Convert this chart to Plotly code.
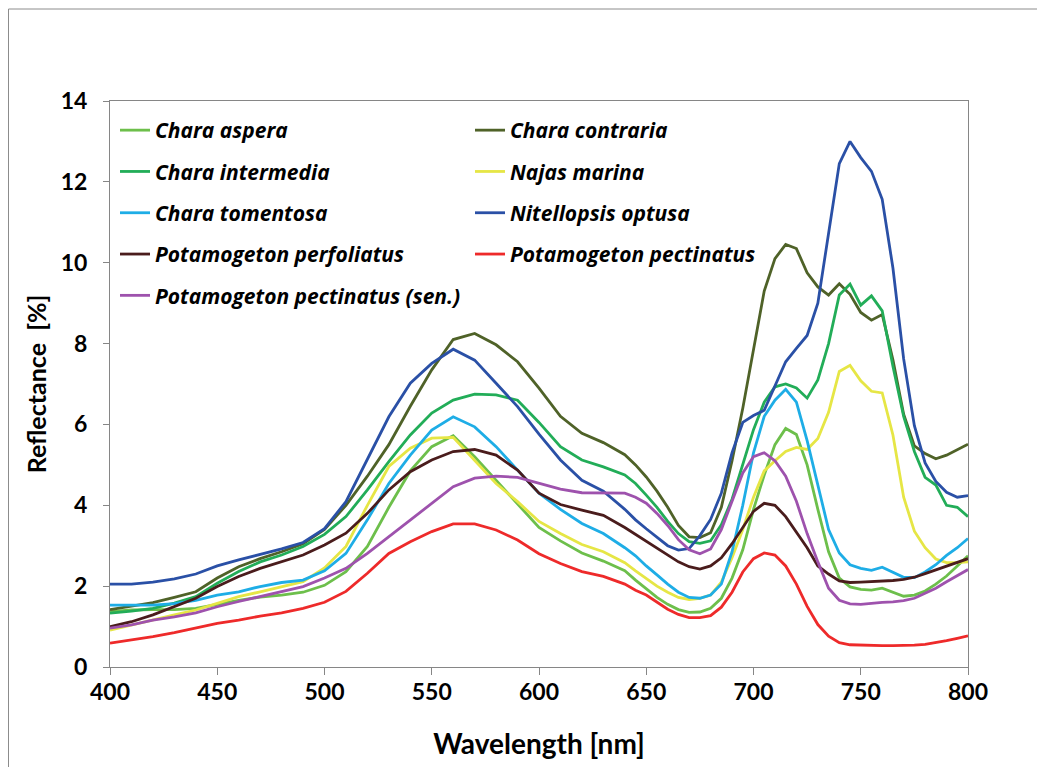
import plotly.graph_objects as go

wavelength = [400, 410, 420, 430, 440, 450, 460, 470, 480, 490, 500, 510, 520, 530, 540, 550, 560, 570,
              580, 590, 600, 610, 620, 630, 640,
              645, 650, 655, 660, 665, 670, 675, 680, 685, 690, 695, 700, 705, 710, 715, 720, 725,
              730, 735, 740, 745, 750, 755, 760, 765, 770, 775, 780, 785, 790, 795, 800]

chara_aspera = [1.37, 1.41, 1.42, 1.42, 1.45, 1.55, 1.65, 1.73, 1.78, 1.85, 2.02, 2.36, 2.98, 3.95, 4.85, 5.45, 5.72, 5.2,
                4.62, 4.02, 3.45, 3.12, 2.82, 2.62, 2.38,
                2.15, 1.94, 1.72, 1.55, 1.42, 1.35, 1.36, 1.45, 1.7, 2.2, 2.9, 3.9, 4.75, 5.5, 5.9, 5.75, 5.0,
                3.9, 2.85, 2.2, 1.98, 1.92, 1.9, 1.95, 1.85, 1.75, 1.78, 1.88, 2.05, 2.25, 2.5, 2.75]

chara_contraria = [1.42, 1.5, 1.59, 1.72, 1.86, 2.2, 2.48, 2.68, 2.85, 3.05, 3.4, 4.0, 4.72, 5.5, 6.45, 7.35, 8.1, 8.25,
                   7.97, 7.55, 6.9, 6.2, 5.78, 5.55, 5.25,
                   5.0, 4.7, 4.35, 3.95, 3.5, 3.22, 3.2, 3.32, 3.95, 5.1, 6.4, 7.9, 9.3, 10.1, 10.45, 10.35, 9.75,
                   9.4, 9.2, 9.48, 9.22, 8.77, 8.58, 8.72, 7.6, 6.25, 5.47, 5.28, 5.15, 5.24, 5.37, 5.51]

chara_intermedia = [1.33, 1.38, 1.45, 1.58, 1.74, 2.07, 2.36, 2.6, 2.77, 2.98, 3.28, 3.72, 4.38, 5.08, 5.74, 6.28, 6.6, 6.75,
                    6.73, 6.6, 6.05, 5.45, 5.12, 4.95, 4.75,
                    4.54, 4.25, 3.95, 3.6, 3.3, 3.1, 3.06, 3.12, 3.52, 4.15, 5.0, 5.87, 6.55, 6.93, 7.0, 6.9, 6.65,
                    7.1, 8.0, 9.2, 9.47, 8.95, 9.18, 8.81, 7.44, 6.2, 5.33, 4.69, 4.5, 4.0, 3.95, 3.72]

najas_marina = [0.91, 1.04, 1.16, 1.29, 1.41, 1.57, 1.74, 1.86, 1.99, 2.11, 2.45, 2.98, 4.0, 4.96, 5.41, 5.66, 5.68, 5.12,
                4.54, 4.09, 3.6, 3.3, 3.03, 2.85, 2.58,
                2.38, 2.18, 2.0, 1.85, 1.72, 1.67, 1.7, 1.78, 2.1, 2.7, 3.4, 4.2, 4.85, 5.1, 5.33, 5.43, 5.38,
                5.65, 6.3, 7.31, 7.46, 7.08, 6.82, 6.78, 5.74, 4.2, 3.36, 2.95, 2.67, 2.58, 2.58, 2.6]

chara_tomentosa = [1.53, 1.53, 1.53, 1.57, 1.65, 1.78, 1.86, 1.99, 2.09, 2.15, 2.38, 2.81, 3.64, 4.54, 5.24, 5.86, 6.19, 5.94,
                   5.45, 4.87, 4.3, 3.9, 3.55, 3.3, 2.95,
                   2.75, 2.5, 2.28, 2.05, 1.85, 1.72, 1.7, 1.78, 2.05, 2.85, 4.0, 5.3, 6.2, 6.6, 6.87, 6.55, 5.6,
                   4.5, 3.4, 2.82, 2.53, 2.44, 2.39, 2.47, 2.35, 2.22, 2.21, 2.35, 2.53, 2.76, 2.95, 3.18]

nitellopsis_optusa = [2.05, 2.05, 2.1, 2.18, 2.3, 2.5, 2.65, 2.78, 2.92, 3.08, 3.42, 4.09, 5.12, 6.19, 7.02, 7.51, 7.86, 7.59,
                      7.02, 6.44, 5.76, 5.12, 4.62, 4.35, 3.9,
                      3.64, 3.42, 3.2, 3.0, 2.89, 2.93, 3.25, 3.65, 4.3, 5.3, 6.05, 6.22, 6.35, 6.95, 7.55, 7.88, 8.2,
                      9.0, 10.7, 12.45, 13.0, 12.6, 12.26, 11.57, 9.87, 7.62, 5.97, 5.05, 4.59, 4.32, 4.2, 4.24]

pot_perfoliatus = [1.0, 1.12, 1.29, 1.49, 1.7, 1.99, 2.24, 2.44, 2.6, 2.77, 3.02, 3.31, 3.8, 4.38, 4.83, 5.12, 5.33, 5.38,
                   5.24, 4.87, 4.3, 4.02, 3.88, 3.75, 3.45,
                   3.28, 3.1, 2.92, 2.75, 2.6, 2.48, 2.42, 2.5, 2.7, 3.05, 3.45, 3.85, 4.05, 4.0, 3.72, 3.34, 2.95,
                   2.5, 2.3, 2.13, 2.09, 2.1, 2.11, 2.13, 2.14, 2.17, 2.22, 2.31, 2.4, 2.5, 2.59, 2.68]

pot_pectinatus = [0.59, 0.67, 0.75, 0.85, 0.96, 1.08, 1.16, 1.26, 1.34, 1.45, 1.6, 1.87, 2.32, 2.81, 3.1, 3.35, 3.54, 3.54,
                  3.39, 3.14, 2.8, 2.56, 2.36, 2.24, 2.05,
                  1.9, 1.78, 1.6, 1.43, 1.3, 1.22, 1.22, 1.27, 1.48, 1.85, 2.35, 2.68, 2.82, 2.77, 2.5, 2.05, 1.5,
                  1.05, 0.76, 0.6, 0.55, 0.54, 0.53, 0.53, 0.53, 0.53, 0.54, 0.56, 0.6, 0.65, 0.71, 0.77]

pot_pectinatus_sen = [0.96, 1.04, 1.16, 1.24, 1.34, 1.49, 1.62, 1.74, 1.86, 1.99, 2.2, 2.44, 2.81, 3.22, 3.64, 4.05, 4.46, 4.67,
                      4.72, 4.69, 4.54, 4.4, 4.31, 4.3, 4.3,
                      4.2, 4.05, 3.8, 3.5, 3.15, 2.9, 2.8, 2.92, 3.4, 4.1, 4.8, 5.2, 5.3, 5.1, 4.72, 4.1, 3.3,
                      2.6, 1.95, 1.65, 1.56, 1.55, 1.58, 1.6, 1.61, 1.64, 1.7, 1.82, 1.95, 2.11, 2.26, 2.41]

series_names = ["Chara aspera", "Chara contraria", "Chara intermedia", "Najas marina", "Chara tomentosa",
                "Nitellopsis optusa", "Potamogeton perfoliatus", "Potamogeton pectinatus",
                "Potamogeton pectinatus (sen.)"]
series_values = [chara_aspera, chara_contraria, chara_intermedia, najas_marina, chara_tomentosa,
                 nitellopsis_optusa, pot_perfoliatus, pot_pectinatus, pot_pectinatus_sen]
series_colors = ["#6dbf4b", "#4f6228", "#22ad58", "#e6e645", "#1eade6",
                 "#2a50a6", "#4a1c1c", "#ee2a2a", "#9e52ad"]
series_legend = ["legend", "legend2", "legend", "legend2", "legend",
                 "legend2", "legend", "legend2", "legend"]

fig = go.Figure()
for i, (name, vals, col, lg) in enumerate(zip(series_names, series_values, series_colors, series_legend)):
    fig.add_trace(go.Scatter(
        x=wavelength, y=vals, mode="lines", name=name,
        line=dict(color=col, width=2.8),
        legend=lg, legendgroup="g%d" % i,
    ))

# page body has an 8px margin; figure is sized/positioned to compensate
OFF = 8
W, H = 1045 - OFF, 767 - OFF
L, R, T, B = 110 - OFF, W - (968 - OFF), 101 - OFF, H - (667 - OFF)
pw, ph = W - L - R, H - T - B

def px_x(sx):  # screenshot x -> paper
    return (sx - OFF - L) / pw

def px_y(sy):  # screenshot y -> paper
    return (H - B - (sy - OFF)) / ph

tick_font = dict(family="Lato, sans-serif", size=23, color="black", weight="bold")
ytitle_font = dict(family="Lato, sans-serif", size=25, color="black", weight="bold")
xtitle_font = dict(family="Lato, sans-serif", size=28, color="black", weight="bold")
legend_font = dict(family="Open Sans, sans-serif", size=21, color="black", weight="bold", style="italic")

fig.update_layout(
    width=W, height=H,
    margin=dict(l=L, r=R, t=T, b=B, autoexpand=False),
    paper_bgcolor="white", plot_bgcolor="white",
    xaxis=dict(range=[400, 800], dtick=50, tick0=400, showgrid=False, zeroline=False,
               showline=True, linecolor="#868686", linewidth=1, mirror=True,
               ticks="outside", ticklen=7, tickcolor="#868686", tickwidth=1,
               tickfont=tick_font, ticklabelstandoff=-3,
               title=dict(text="Wavelength [nm]", font=xtitle_font, standoff=30)),
    yaxis=dict(range=[0, 14], dtick=2, tick0=0, showgrid=False, zeroline=False,
               showline=True, linecolor="#868686", linewidth=1, mirror=True,
               ticks="outside", ticklen=6, tickcolor="#868686", tickwidth=1,
               tickfont=tick_font, ticklabelstandoff=11,
               title=dict(text="Reflectance  [%]", font=ytitle_font, standoff=6)),
    legend=dict(x=px_x(115), y=px_y(110), xanchor="left", yanchor="top",
                font=legend_font, bgcolor="rgba(0,0,0,0)", tracegroupgap=11,
                orientation="v"),
    legend2=dict(x=px_x(470), y=px_y(110), xanchor="left", yanchor="top",
                 font=legend_font, bgcolor="rgba(0,0,0,0)", tracegroupgap=11,
                 orientation="v"),
    shapes=[dict(type="rect", xref="paper", yref="paper",
                 x0=px_x(8.5), x1=px_x(1070), y0=px_y(800), y1=px_y(9),
                 line=dict(color="#8c8c8c", width=1), fillcolor="rgba(0,0,0,0)", layer="below")],
)

fig.write_html("out.html")
